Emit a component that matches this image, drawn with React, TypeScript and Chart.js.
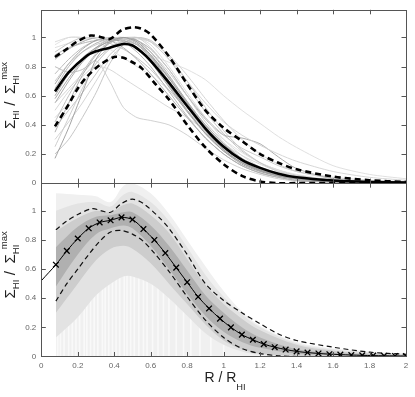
import React, { useEffect, useRef } from 'react';
import { Chart, registerables } from 'chart.js';

Chart.register(...registerables);

// ---------- TOP PANEL DATA ----------
const R_GRID = [0.075, 0.15, 0.225, 0.3, 0.375, 0.45, 0.525, 0.6, 0.7, 0.8, 0.9, 1.0, 1.1, 1.2, 1.3, 1.4, 1.6, 1.8, 2.0];

const PROFILES: number[][] = [
  [0.17, 0.38, 0.62, 0.85, 0.97, 1.0, 0.97, 0.88, 0.72, 0.55, 0.38, 0.25, 0.15, 0.09, 0.05, 0.03, 0.01, 0.005, 0],
  [0.25, 0.45, 0.65, 0.82, 0.92, 0.98, 1.0, 0.93, 0.78, 0.6, 0.42, 0.28, 0.17, 0.1, 0.06, 0.035, 0.015, 0.005, 0],
  [0.35, 0.55, 0.74, 0.88, 0.96, 1.0, 0.98, 0.9, 0.74, 0.56, 0.4, 0.27, 0.17, 0.1, 0.06, 0.035, 0.012, 0.004, 0],
  [0.42, 0.6, 0.76, 0.89, 0.97, 0.99, 0.95, 0.86, 0.7, 0.53, 0.37, 0.24, 0.15, 0.09, 0.05, 0.03, 0.01, 0.003, 0],
  [0.5, 0.63, 0.73, 0.82, 0.93, 0.99, 1.0, 0.97, 0.85, 0.7, 0.55, 0.42, 0.33, 0.26, 0.2, 0.15, 0.08, 0.04, 0.02],
  [0.6, 0.75, 0.86, 0.93, 0.97, 0.98, 0.93, 0.83, 0.66, 0.49, 0.34, 0.22, 0.13, 0.08, 0.05, 0.03, 0.01, 0.003, 0],
  [0.65, 0.8, 0.9, 0.96, 0.99, 0.97, 0.9, 0.8, 0.63, 0.46, 0.31, 0.2, 0.12, 0.07, 0.04, 0.02, 0.008, 0.002, 0],
  [0.7, 0.82, 0.9, 0.95, 0.98, 1.0, 0.97, 0.9, 0.76, 0.6, 0.45, 0.33, 0.24, 0.18, 0.12, 0.08, 0.04, 0.02, 0.01],
  [0.97, 1.0, 1.0, 1.0, 1.0, 1.0, 1.0, 0.95, 0.8, 0.62, 0.45, 0.3, 0.19, 0.11, 0.06, 0.035, 0.012, 0.004, 0],
  [0.85, 0.92, 0.97, 1.0, 0.98, 0.93, 0.85, 0.75, 0.6, 0.45, 0.31, 0.2, 0.12, 0.07, 0.04, 0.02, 0.007, 0.002, 0],
  [0.9, 0.96, 1.0, 0.99, 0.96, 0.92, 0.86, 0.78, 0.64, 0.5, 0.37, 0.26, 0.17, 0.11, 0.07, 0.04, 0.015, 0.005, 0],
  [0.93, 0.96, 0.98, 1.0, 0.99, 0.97, 0.93, 0.88, 0.83, 0.78, 0.71, 0.6, 0.5, 0.41, 0.32, 0.245, 0.12, 0.06, 0.03],
  [0.55, 0.65, 0.75, 0.84, 0.7, 0.52, 0.45, 0.43, 0.4, 0.33, 0.24, 0.16, 0.1, 0.06, 0.03, 0.015, 0.005, 0, 0],
  [0.8, 0.76, 0.78, 0.85, 0.93, 0.97, 0.95, 0.88, 0.73, 0.56, 0.4, 0.27, 0.17, 0.1, 0.06, 0.03, 0.01, 0.003, 0],
  [0.45, 0.55, 0.68, 0.8, 0.78, 0.72, 0.66, 0.6, 0.52, 0.45, 0.36, 0.27, 0.19, 0.13, 0.08, 0.05, 0.02, 0.008, 0],
  [0.55, 0.7, 0.83, 0.92, 0.98, 1.0, 0.98, 0.92, 0.78, 0.6, 0.44, 0.33, 0.31, 0.27, 0.18, 0.1, 0.03, 0.01, 0],
  [0.38, 0.5, 0.62, 0.75, 0.88, 0.96, 1.0, 0.98, 0.87, 0.7, 0.52, 0.36, 0.23, 0.14, 0.08, 0.05, 0.02, 0.005, 0],
  [0.68, 0.82, 0.92, 0.98, 1.0, 0.98, 0.93, 0.85, 0.68, 0.5, 0.34, 0.22, 0.14, 0.09, 0.055, 0.035, 0.015, 0.005, 0],
  [0.75, 0.85, 0.93, 0.98, 1.0, 0.99, 0.95, 0.87, 0.72, 0.55, 0.39, 0.26, 0.16, 0.1, 0.06, 0.04, 0.015, 0.005, 0],
  [0.3, 0.42, 0.55, 0.7, 0.85, 0.95, 0.99, 0.97, 0.88, 0.74, 0.58, 0.43, 0.3, 0.2, 0.13, 0.08, 0.03, 0.01, 0],
  [0.95, 1.0, 1.0, 0.97, 0.92, 0.86, 0.8, 0.74, 0.64, 0.52, 0.4, 0.3, 0.21, 0.14, 0.09, 0.06, 0.02, 0.006, 0],
  [0.58, 0.72, 0.84, 0.93, 0.99, 1.0, 0.96, 0.87, 0.7, 0.52, 0.36, 0.23, 0.14, 0.085, 0.05, 0.03, 0.01, 0.003, 0],
  [0.2, 0.3, 0.45, 0.62, 0.82, 0.95, 1.0, 0.97, 0.85, 0.67, 0.49, 0.34, 0.22, 0.14, 0.09, 0.055, 0.02, 0.007, 0],
  [0.88, 0.93, 0.96, 0.98, 0.99, 0.97, 0.92, 0.84, 0.67, 0.5, 0.35, 0.23, 0.14, 0.085, 0.05, 0.03, 0.01, 0.003, 0],
];

const PROFILE_GRAYS = [
  '#9a9a9a', '#c8c8c8', '#a8a8a8', '#b8b8b8', '#d2d2d2', '#9c9c9c', '#b0b0b0', '#c6c6c6',
  '#d8d8d8', '#a6a6a6', '#bebebe', '#dcdcdc', '#cccccc', '#b6b6b6', '#d4d4d4', '#a4a4a4',
  '#c2c2c2', '#9e9e9e', '#b4b4b4', '#d0d0d0', '#e0e0e0', '#a0a0a0', '#c0c0c0', '#aeaeae',
];

const TOP_MEAN_R = [0.075, 0.15, 0.25, 0.3, 0.375, 0.45, 0.5, 0.55, 0.6, 0.7, 0.8, 0.9, 1.0, 1.1, 1.2, 1.3, 1.4, 1.6, 1.8, 2.0];
const TOP_MEAN = [0.63, 0.76, 0.875, 0.905, 0.93, 0.955, 0.945, 0.9, 0.84, 0.69, 0.53, 0.375, 0.25, 0.16, 0.105, 0.065, 0.04, 0.018, 0.008, 0.004];

const TOP_UPPER_R = [0.075, 0.15, 0.2, 0.27, 0.32, 0.376, 0.44, 0.5, 0.55, 0.6, 0.7, 0.8, 0.9, 1.0, 1.1, 1.2, 1.3, 1.4, 1.6, 1.8, 2.0];
const TOP_UPPER = [0.866, 0.93, 0.975, 1.013, 1.005, 0.99, 1.05, 1.07, 1.06, 1.02, 0.87, 0.68, 0.5, 0.38, 0.29, 0.2, 0.14, 0.095, 0.045, 0.02, 0.008];

const TOP_LOWER_R = [0.075, 0.15, 0.2, 0.25, 0.32, 0.4, 0.45, 0.5, 0.55, 0.63, 0.7, 0.8, 0.9, 1.0, 1.1, 1.2, 1.3, 1.4, 2.0];
const TOP_LOWER = [0.39, 0.54, 0.65, 0.73, 0.81, 0.866, 0.86, 0.83, 0.79, 0.674, 0.575, 0.4, 0.245, 0.13, 0.05, 0.012, 0.0, 0.0, 0.0];

// ---------- BOTTOM PANEL DATA ----------
const CROSS_R = [0.08, 0.14, 0.2, 0.26, 0.32, 0.38, 0.44, 0.5, 0.56, 0.62, 0.68, 0.74, 0.8, 0.86, 0.92, 0.98, 1.04, 1.1, 1.16, 1.22, 1.28, 1.34, 1.4, 1.46, 1.52, 1.58, 1.64, 1.7, 1.76, 1.82, 1.88, 1.94, 2.0];
const CROSS_V = [0.63, 0.725, 0.81, 0.88, 0.92, 0.935, 0.955, 0.94, 0.875, 0.8, 0.71, 0.61, 0.51, 0.41, 0.33, 0.26, 0.2, 0.15, 0.115, 0.085, 0.064, 0.048, 0.035, 0.027, 0.021, 0.016, 0.013, 0.01, 0.008, 0.006, 0.005, 0.004, 0.003];

const FIT_HEAD_R = [0, 0.04];
const FIT_HEAD_V = [0.52, 0.575];

const BOT_UPPER_R = [0.08, 0.14, 0.2, 0.28, 0.33, 0.38, 0.44, 0.5, 0.56, 0.65, 0.7, 0.8, 0.9, 1.0, 1.1, 1.2, 1.3, 1.4, 1.6, 1.8, 2.0];
const BOT_UPPER = [0.87, 0.93, 0.975, 1.015, 1.0, 0.99, 1.05, 1.08, 1.05, 0.95, 0.88, 0.7, 0.5, 0.385, 0.3, 0.225, 0.155, 0.11, 0.064, 0.03, 0.015];

const BOT_LOWER_R = [0.08, 0.14, 0.2, 0.26, 0.32, 0.38, 0.44, 0.5, 0.56, 0.62, 0.7, 0.8, 0.9, 1.0, 1.1, 1.2, 1.3, 1.4, 2.0];
const BOT_LOWER = [0.38, 0.5, 0.6, 0.7, 0.79, 0.855, 0.865, 0.84, 0.79, 0.71, 0.585, 0.41, 0.25, 0.13, 0.055, 0.02, 0.005, 0, 0];

const BAND_R = [0.08, 0.2, 0.3, 0.38, 0.45, 0.5, 0.6, 0.7, 0.8, 0.9, 1.0, 1.1, 1.2, 1.4, 1.6, 1.8, 2.0];
const BAND_A_TOP = [1.12, 1.11, 1.1, 1.06, 1.17, 1.19, 1.12, 0.98, 0.8, 0.62, 0.45, 0.31, 0.21, 0.1, 0.055, 0.035, 0.02];
const BAND_B_TOP = [1.0, 1.05, 1.06, 1.03, 1.11, 1.13, 1.06, 0.93, 0.75, 0.56, 0.41, 0.29, 0.2, 0.09, 0.05, 0.03, 0.018];
const BAND_B_BOT = [0.13, 0.27, 0.42, 0.5, 0.55, 0.55, 0.5, 0.4, 0.28, 0.16, 0.08, 0.035, 0.012, 0, 0, 0, 0];
const BAND_C_TOP = [0.86, 0.95, 1.0, 0.99, 1.04, 1.05, 0.97, 0.85, 0.67, 0.49, 0.36, 0.26, 0.18, 0.08, 0.04, 0.02, 0.012];
const BAND_C_BOT = [0.3, 0.5, 0.66, 0.74, 0.76, 0.74, 0.64, 0.5, 0.36, 0.22, 0.11, 0.05, 0.02, 0.003, 0, 0, 0];
const BAND_D_TOP = [0.75, 0.89, 0.96, 0.97, 0.99, 0.99, 0.9, 0.76, 0.59, 0.42, 0.3, 0.2, 0.13, 0.05, 0.025, 0.012, 0.007];
const BAND_D_BOT = [0.48, 0.7, 0.84, 0.88, 0.9, 0.88, 0.76, 0.6, 0.43, 0.28, 0.17, 0.1, 0.06, 0.02, 0.01, 0.004, 0.002];

const BAND_COLORS = ['#f0f0f0', '#e3e3e3', '#cdcdcd', '#b0b0b0'];

// faint vertical stripes in the lower light region
const STRIPE_R = [0.09, 0.105, 0.125, 0.15, 0.17, 0.19, 0.21, 0.235, 0.25, 0.27, 0.29, 0.31, 0.335, 0.35, 0.37, 0.39, 0.41, 0.43, 0.455, 0.47, 0.49, 0.51, 0.535, 0.56, 0.58, 0.61, 0.64, 0.67, 0.7, 0.74, 0.78, 0.82, 0.87, 0.93, 1.0];
const STRIPE_TOP = [0.6, 0.65, 0.68, 0.72, 0.74, 0.78, 0.8, 0.82, 0.84, 0.85, 0.86, 0.86, 0.87, 0.87, 0.86, 0.86, 0.85, 0.85, 0.84, 0.83, 0.82, 0.8, 0.78, 0.75, 0.72, 0.68, 0.63, 0.58, 0.52, 0.45, 0.38, 0.3, 0.22, 0.15, 0.08];

// ---------- STYLE ----------
const FONT = "'Liberation Sans', Arial, Helvetica, sans-serif";
const FRAME = '#555555';
const LABEL = '#666666';

const xy = (xs: number[], ys: number[]) => xs.map((x, i) => ({ x, y: ys[i] }));

type Part = { t: string; s: number; dy: number; padL?: number; padR?: number; ox?: number; over?: boolean };

function layoutRich(ctx: CanvasRenderingContext2D, parts: Part[]) {
  const out: { p: Part; x: number; w: number }[] = [];
  let x = 0;
  let prevStart = 0;
  let end = 0;
  for (const p of parts) {
    ctx.font = `${p.s}px ${FONT}`;
    const w = ctx.measureText(p.t).width;
    if (p.over) {
      const px = prevStart + (p.ox || 0);
      out.push({ p, x: px, w });
      end = Math.max(end, px + w);
    } else {
      x += p.padL || 0;
      out.push({ p, x, w });
      prevStart = x;
      x += w + (p.padR || 0);
      end = Math.max(end, x);
    }
  }
  return { items: out, width: end };
}

function drawRich(ctx: CanvasRenderingContext2D, parts: Part[]) {
  const { items, width } = layoutRich(ctx, parts);
  for (const it of items) {
    ctx.font = `${it.p.s}px ${FONT}`;
    ctx.fillText(it.p.t, it.x - width / 2, it.p.dy);
  }
}

const Y_TITLE: Part[] = [
  { t: 'Σ', s: 15, dy: 0 },
  { t: 'HI', s: 9.5, dy: 3.5 },
  { t: '/', s: 15, dy: 0, padL: 4.5, padR: 7.5 },
  { t: 'Σ', s: 15, dy: 0 },
  { t: 'HI', s: 9.5, dy: 3.5 },
  { t: 'max', s: 9.5, dy: -8, over: true, ox: 5 },
];
const X_TITLE: Part[] = [
  { t: 'R / R', s: 14, dy: 0 },
  { t: 'HI', s: 9.3, dy: 8.3 },
];

const fmt = (v: any) => `${Math.round(Number(v) * 10) / 10}`;

const decor = {
  id: 'decor',
  afterDatasetsDraw(chart: any) {
    const { ctx, chartArea: ca, scales } = chart;
    const xs = scales.x;
    const panels = [scales.yT, scales.yB];
    ctx.save();
    ctx.strokeStyle = FRAME;
    ctx.lineWidth = 1;
    const L = 4.5;
    ctx.beginPath();
    for (const ys of panels) {
      for (const t of ys.ticks) {
        if (t.value <= 0) continue;
        const py = Math.round(ys.getPixelForValue(t.value)) + 0.5;
        ctx.moveTo(ca.left, py);
        ctx.lineTo(ca.left + L, py);
        ctx.moveTo(ca.right, py);
        ctx.lineTo(ca.right - L, py);
      }
      for (const t of xs.ticks) {
        if (t.value <= 0 || t.value >= 2) continue;
        const px = Math.round(xs.getPixelForValue(t.value)) + 0.5;
        ctx.moveTo(px, ys.top);
        ctx.lineTo(px, ys.top + L);
        ctx.moveTo(px, ys.bottom);
        ctx.lineTo(px, ys.bottom - L);
      }
    }
    ctx.stroke();
    for (const ys of panels) {
      ctx.strokeRect(Math.round(ca.left) + 0.5, Math.round(ys.top) + 0.5, Math.round(ca.right - ca.left), Math.round(ys.bottom - ys.top));
    }
    ctx.fillStyle = '#222';
    ctx.textBaseline = 'alphabetic';
    ctx.textAlign = 'left';
    const offs = [-1, -5];
    panels.forEach((ys: any, i: number) => {
      ctx.save();
      ctx.translate(15, (ys.top + ys.bottom) / 2 + offs[i]);
      ctx.rotate(-Math.PI / 2);
      drawRich(ctx, Y_TITLE);
      ctx.restore();
    });
    ctx.save();
    ctx.translate(225, 381.7);
    drawRich(ctx, X_TITLE);
    ctx.restore();
    ctx.restore();
  },
};

export default function App() {
  const ref = useRef<HTMLCanvasElement>(null);
  useEffect(() => {
    const datasets: any[] = [];
    PROFILES.forEach((p, i) => {
      datasets.push({
        data: xy(R_GRID, p), yAxisID: 'yT', borderColor: PROFILE_GRAYS[i], borderWidth: 0.9,
        pointRadius: 0, tension: 0.25, fill: false, order: 50,
      });
    });
    datasets.push({ data: xy(TOP_UPPER_R, TOP_UPPER), yAxisID: 'yT', borderColor: '#000', borderWidth: 2.6, borderDash: [6, 4], pointRadius: 0, tension: 0.3, fill: false, order: 20 });
    datasets.push({ data: xy(TOP_LOWER_R, TOP_LOWER), yAxisID: 'yT', borderColor: '#000', borderWidth: 2.6, borderDash: [6, 4], pointRadius: 0, tension: 0.3, fill: false, order: 20 });
    datasets.push({ data: xy(TOP_MEAN_R, TOP_MEAN), yAxisID: 'yT', borderColor: '#000', borderWidth: 2.6, pointRadius: 0, tension: 0.25, fill: false, order: 10 });

    const bandOpts = { yAxisID: 'yB', borderWidth: 0, pointRadius: 0, tension: 0.35, borderColor: 'rgba(0,0,0,0)' };
    datasets.push({ ...bandOpts, data: xy(BAND_R, BAND_A_TOP), backgroundColor: BAND_COLORS[0], fill: 'origin', order: 100 });
    datasets.push({
      type: 'bar', data: xy(STRIPE_R, STRIPE_TOP), yAxisID: 'yB', backgroundColor: 'rgba(255,255,255,0.6)',
      borderWidth: 0, barThickness: 1, order: 95,
    });
    const bands: [number[], number[], string, number][] = [
      [BAND_B_TOP, BAND_B_BOT, BAND_COLORS[1], 90],
      [BAND_C_TOP, BAND_C_BOT, BAND_COLORS[2], 80],
      [BAND_D_TOP, BAND_D_BOT, BAND_COLORS[3], 70],
    ];
    for (const [top, bot, col, ord] of bands) {
      datasets.push({ ...bandOpts, data: xy(BAND_R, top), backgroundColor: col, fill: '+1', order: ord });
      datasets.push({ ...bandOpts, data: xy(BAND_R, bot), backgroundColor: col, fill: false, order: ord + 1 });
    }
    datasets.push({ data: xy(BOT_UPPER_R, BOT_UPPER), yAxisID: 'yB', borderColor: '#111', borderWidth: 1.2, borderDash: [5, 3.5], pointRadius: 0, tension: 0.3, fill: false, order: 20 });
    datasets.push({ data: xy(BOT_LOWER_R, BOT_LOWER), yAxisID: 'yB', borderColor: '#111', borderWidth: 1.2, borderDash: [5, 3.5], pointRadius: 0, tension: 0.3, fill: false, order: 20 });
    datasets.push({ data: xy([...FIT_HEAD_R, ...CROSS_R], [...FIT_HEAD_V, ...CROSS_V]), yAxisID: 'yB', borderColor: '#000', borderWidth: 1, pointRadius: 0, tension: 0.3, fill: false, order: 10 });
    datasets.push({ data: xy(CROSS_R, CROSS_V), yAxisID: 'yB', showLine: false, pointStyle: 'crossRot', pointRadius: 4, borderColor: '#000', backgroundColor: '#000', pointBorderWidth: 1.3, order: 5 });

    const tickFont = { family: FONT, size: 8 };
    const yScale = (weight: number) => ({
      type: 'linear', position: 'left', stack: 'panels', stackWeight: 1, weight, offset: false,
      min: 0, max: 1.19,
      grid: { display: false, drawTicks: false },
      border: { display: false },
      ticks: { stepSize: 0.2, includeBounds: false, font: tickFont, color: LABEL, padding: 5, callback: fmt },
      afterFit: (s: any) => { s.width = 41.3; },
    });

    const chart = new Chart(ref.current as HTMLCanvasElement, {
      type: 'line',
      data: { datasets },
      options: {
        responsive: false,
        animation: false,
        events: [],
        layout: { padding: { left: 0, right: 9, top: 7.5, bottom: 0 } },
        plugins: { legend: { display: false }, tooltip: { enabled: false }, filler: { propagate: false } },
        scales: {
          x: {
            type: 'linear', position: 'bottom', min: 0, max: 2, offset: false,
            grid: { display: false, drawTicks: false },
            border: { display: false },
            ticks: { stepSize: 0.2, font: tickFont, color: LABEL, padding: 4.5, maxRotation: 0, callback: fmt },
            afterFit: (s: any) => { s.height = 40.5; },
          },
          yT: yScale(2),
          yB: yScale(1),
        } as any,
      },
      plugins: [decor],
    });
    return () => chart.destroy();
  }, []);
  return (
    <div style={{ position: 'absolute', left: 0, top: 0, width: 415, height: 397, background: '#fff' }}>
      <canvas ref={ref} width={415} height={397} style={{ display: 'block' }} />
    </div>
  );
}
